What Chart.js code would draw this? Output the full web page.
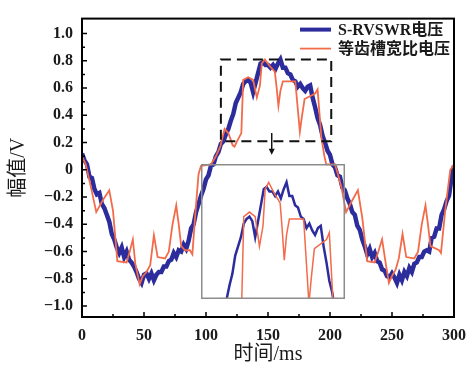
<!DOCTYPE html>
<html>
<head>
<meta charset="utf-8">
<script src="https://cdn.jsdelivr.net/npm/chart.js@4"></script>
<style>
  body { margin: 0; background: #fff; }
  #wrap { position: relative; width: 475px; height: 369px; }
  canvas { position: absolute; left: 0; top: 0; }
</style>
</head>
<body>
<div id="wrap">
  <canvas id="chart_main" width="475" height="369"></canvas>
  <canvas id="chart_inset"></canvas>
</div>
<script>
// S-RVSWR voltage, sampled every 2 ms
const blueTime = [
  0, 2, 4, 6, 8, 10, 12, 14, 16, 18, 20, 22, 24, 26, 28, 30, 32, 34, 36, 38,
  40, 42, 44, 46, 48, 50, 52, 54, 56, 58, 60, 62, 64, 66, 68, 70, 72, 74, 76, 78,
  80, 82, 84, 86, 88, 90, 92, 94, 96, 98, 100, 102, 104, 106, 108, 110, 112, 114, 116, 118,
  120, 122, 124, 126, 128, 130, 132, 134, 136, 138, 140, 142, 144, 146, 148, 150, 152, 154, 156, 158,
  160, 162, 164, 166, 168, 170, 172, 174, 176, 178, 180, 182, 184, 186, 188, 190, 192, 194, 196, 198,
  200, 202, 204, 206, 208, 210, 212, 214, 216, 218, 220, 222, 224, 226, 228, 230, 232, 234, 236, 238,
  240, 242, 244, 246, 248, 250, 252, 254, 256, 258, 260, 262, 264, 266, 268, 270, 272, 274, 276, 278,
  280, 282, 284, 286, 288, 290, 292, 294, 296, 298, 300
];
const blueVolt = [
  0.12, 0.07, 0.04, -0.05, -0.06, -0.14, -0.18, -0.17, -0.25, -0.28,
  -0.33, -0.38, -0.47, -0.51, -0.57, -0.61, -0.57, -0.64, -0.60, -0.66,
  -0.68, -0.71, -0.75, -0.80, -0.83, -0.77, -0.76, -0.80, -0.76, -0.81,
  -0.77, -0.75, -0.75, -0.71, -0.71, -0.67, -0.66, -0.61, -0.64, -0.59,
  -0.60, -0.55, -0.58, -0.52, -0.43, -0.40, -0.31, -0.25, -0.19, -0.14,
  -0.07, -0.04, 0.03, 0.04, 0.10, 0.13, 0.19, 0.21, 0.26, 0.30,
  0.36, 0.41, 0.49, 0.53, 0.57, 0.63, 0.65, 0.66, 0.64, 0.57,
  0.64, 0.71, 0.78, 0.79, 0.77, 0.77, 0.75, 0.77, 0.74, 0.78,
  0.81, 0.75, 0.75, 0.71, 0.70, 0.66, 0.65, 0.61, 0.63, 0.60,
  0.58, 0.61, 0.62, 0.53, 0.46, 0.38, 0.33, 0.25, 0.20, 0.14,
  0.11, 0.04, 0.02, -0.04, -0.05, -0.13, -0.15, -0.21, -0.25, -0.31,
  -0.33, -0.41, -0.44, -0.51, -0.56, -0.62, -0.58, -0.64, -0.61, -0.67,
  -0.68, -0.73, -0.74, -0.78, -0.79, -0.76, -0.79, -0.83, -0.77, -0.81,
  -0.75, -0.78, -0.72, -0.75, -0.69, -0.68, -0.64, -0.64, -0.60, -0.59,
  -0.60, -0.50, -0.49, -0.43, -0.43, -0.33, -0.29, -0.23, -0.19, -0.06,
  0.03
];

// equal tooth/slot width voltage, corner points
const orangeTime = [
  0, 3, 7.5, 11.5, 17, 22, 25, 28.5, 36, 38.5, 41, 43, 46.5, 49, 52, 55, 58, 61, 67, 70,
  73, 76, 78, 80, 83, 87, 89, 91.5, 94, 96, 104, 108, 111.5, 115, 118, 120, 121.5, 123, 124.5, 128.5,
  130, 134, 138, 141, 143.5, 145, 147.5, 151.5, 155.5, 157, 158.4, 160, 162, 172, 174, 175.7, 177.5, 179.5, 188, 190,
  193, 195.5, 197, 204, 206, 209, 213, 217, 222.5, 226, 230, 236, 239, 242, 245, 247.5, 250, 253, 255.5, 258.5,
  261.5, 268, 271, 274, 277, 279, 281, 288, 289.5, 293, 297, 300
];
const orangeVolt = [
  0.10, 0.04, -0.14, -0.31, -0.22, -0.15, -0.30, -0.67, -0.68, -0.60, -0.51, -0.69, -0.84, -0.78, -0.75, -0.70, -0.48, -0.64, -0.65, -0.60,
  -0.40, -0.26, -0.40, -0.56, -0.59, -0.59, -0.62, -0.31, -0.03, 0.03, 0.04, 0.10, 0.17, 0.30, 0.27, 0.22, 0.18, 0.17, 0.20, 0.27,
  0.66, 0.68, 0.66, 0.53, 0.62, 0.78, 0.81, 0.76, 0.72, 0.60, 0.47, 0.58, 0.65, 0.65, 0.45, 0.28, 0.40, 0.52, 0.56, 0.59,
  0.24, 0.10, 0.04, 0.04, -0.02, -0.12, -0.31, -0.24, -0.15, -0.35, -0.67, -0.68, -0.60, -0.51, -0.69, -0.83, -0.78, -0.73, -0.65, -0.47,
  -0.64, -0.65, -0.60, -0.40, -0.26, -0.40, -0.56, -0.59, -0.61, -0.29, 0.00, 0.04
];

const seriesNames = ['S-RVSWR电压', '等齿槽宽比电压'];
const xTicks = [0, 50, 100, 150, 200, 250, 300];
const yTicks = [-1.0, -0.8, -0.6, -0.4, -0.2, 0, 0.2, 0.4, 0.6, 0.8, 1.0];

// dashed window around the peak, and where the enlarged copy sits
const zoomWindow = { t0: 112, t1: 201, v0: 0.21, v1: 0.81 };
const insetFrame = { t0: 96, t1: 212, v0: 0.04, v1: -0.95 };
const insetRange = { t0: 100, t1: 201, v0: 0.3, v1: 0.89 };

const BLUE = '#2c2c9c';
const ORANGE = '#f26b4a';
const TEXT = '#1a1a1a';
const serif = '"Liberation Serif", "Noto Sans CJK SC", serif';

function points(ts, vs) {
  return ts.map((t, i) => ({ x: t, y: vs[i] }));
}

function voltLabel(v) {
  if (Math.abs(v) < 1e-9) return '0';
  return (v < 0 ? '\u2212' : '') + Math.abs(v).toFixed(1);
}

const notesPlugin = {
  id: 'notes',
  afterDatasetsDraw(chart) {
    const { ctx, chartArea: ca, scales: { x, y } } = chart;
    ctx.save();

    // dashed window
    ctx.strokeStyle = '#111';
    ctx.lineWidth = 2;
    ctx.setLineDash([10, 6]);
    const wx0 = x.getPixelForValue(zoomWindow.t0), wx1 = x.getPixelForValue(zoomWindow.t1);
    const wy0 = y.getPixelForValue(zoomWindow.v1), wy1 = y.getPixelForValue(zoomWindow.v0);
    ctx.strokeRect(wx0, wy0, wx1 - wx0, wy1 - wy0);
    ctx.setLineDash([]);

    // arrow down to the enlarged view
    const ax = x.getPixelForValue(153);
    const ay0 = y.getPixelForValue(0.27), ay1 = y.getPixelForValue(0.11);
    ctx.lineWidth = 1.5;
    ctx.beginPath();
    ctx.moveTo(ax, ay0);
    ctx.lineTo(ax, ay1 - 5);
    ctx.stroke();
    ctx.fillStyle = '#111';
    ctx.beginPath();
    ctx.moveTo(ax - 3, ay1 - 6);
    ctx.lineTo(ax + 3, ay1 - 6);
    ctx.lineTo(ax, ay1);
    ctx.closePath();
    ctx.fill();

    // frame
    ctx.strokeStyle = '#000';
    ctx.lineWidth = 2;
    ctx.strokeRect(ca.left, ca.top, ca.width, ca.height);

    // inward ticks, minor ones halfway between labels
    ctx.lineWidth = 1.5;
    ctx.beginPath();
    xTicks.forEach((t, i) => {
      const px = x.getPixelForValue(t);
      ctx.moveTo(px, ca.bottom);
      ctx.lineTo(px, ca.bottom - 5);
      if (i < xTicks.length - 1) {
        const mx = x.getPixelForValue((t + xTicks[i + 1]) / 2);
        ctx.moveTo(mx, ca.bottom);
        ctx.lineTo(mx, ca.bottom - 3);
      }
    });
    yTicks.forEach((v, i) => {
      const py = y.getPixelForValue(v);
      ctx.moveTo(ca.left, py);
      ctx.lineTo(ca.left + 5, py);
      if (i < yTicks.length - 1) {
        const my = y.getPixelForValue((v + yTicks[i + 1]) / 2);
        ctx.moveTo(ca.left, my);
        ctx.lineTo(ca.left + 3, my);
      }
    });
    ctx.stroke();

    // legend
    ctx.font = 'bold 16px ' + serif;
    ctx.textBaseline = 'middle';
    ctx.textAlign = 'left';
    chart.data.datasets.forEach((ds, i) => {
      const ly = ca.top + 11 + i * 19;
      ctx.strokeStyle = ds.borderColor;
      ctx.lineWidth = Math.min(ds.borderWidth, 4);
      ctx.beginPath();
      ctx.moveTo(ca.right - 154, ly);
      ctx.lineTo(ca.right - 123, ly);
      ctx.stroke();
      ctx.fillStyle = TEXT;
      ctx.fillText(ds.label, ca.right - 116, ly + 1);
    });
    ctx.restore();
  }
};

const mainChart = new Chart(document.getElementById('chart_main'), {
  type: 'line',
  data: {
    datasets: [
      {
        label: seriesNames[0],
        data: points(blueTime, blueVolt),
        borderColor: BLUE,
        borderWidth: 4.5,
        pointRadius: 0,
        tension: 0,
        order: 1
      },
      {
        label: seriesNames[1],
        data: points(orangeTime, orangeVolt),
        borderColor: ORANGE,
        borderWidth: 1.8,
        pointRadius: 0,
        tension: 0,
        order: 0
      }
    ]
  },
  options: {
    responsive: false,
    animation: false,
    layout: { padding: { top: 14, right: 18, left: 0, bottom: 0 } },
    plugins: { legend: { display: false }, tooltip: { enabled: false } },
    scales: {
      x: {
        type: 'linear',
        min: 0,
        max: 300,
        afterBuildTicks: (s) => { s.ticks = xTicks.map(v => ({ value: v })); },
        afterFit: (s) => { s.height = 52; },
        grid: { display: false, drawTicks: false },
        border: { display: false },
        ticks: { padding: 9, color: TEXT, maxRotation: 0, autoSkip: false, font: { family: serif, size: 16, weight: 'bold' } },
        title: { display: true, text: '时间/ms', color: TEXT, padding: { top: 0, bottom: 2 }, font: { family: serif, size: 20 } }
      },
      y: {
        min: -1.08,
        max: 1.11,
        afterBuildTicks: (s) => { s.ticks = yTicks.map(v => ({ value: v })); },
        afterFit: (s) => { s.width = 82; },
        grid: { display: false, drawTicks: false },
        border: { display: false },
        ticks: { padding: 9, color: TEXT, autoSkip: false, callback: voltLabel, font: { family: serif, size: 16, weight: 'bold' } },
        title: { display: true, text: '幅值/V', color: TEXT, padding: { top: 7, bottom: 0 }, font: { family: serif, size: 20 } }
      }
    }
  },
  plugins: [notesPlugin]
});

// enlarged view of the peak, laid over the main plot
const insetCanvas = document.getElementById('chart_inset');
const mx = mainChart.scales.x, my = mainChart.scales.y;
const fx0 = mx.getPixelForValue(insetFrame.t0), fx1 = mx.getPixelForValue(insetFrame.t1);
const fy0 = my.getPixelForValue(insetFrame.v0), fy1 = my.getPixelForValue(insetFrame.v1);
insetCanvas.width = Math.round(fx1 - fx0);
insetCanvas.height = Math.round(fy1 - fy0);
insetCanvas.style.left = Math.round(fx0) + 'px';
insetCanvas.style.top = Math.round(fy0) + 'px';

const insetBorder = {
  id: 'insetBorder',
  afterDatasetsDraw(chart) {
    const { ctx, width, height } = chart;
    ctx.save();
    ctx.strokeStyle = '#8c8c8c';
    ctx.lineWidth = 1.5;
    ctx.strokeRect(0.75, 0.75, width - 1.5, height - 1.5);
    ctx.restore();
  }
};

new Chart(insetCanvas, {
  type: 'line',
  data: {
    datasets: [
      { data: points(blueTime, blueVolt), borderColor: BLUE, borderWidth: 2.5, pointRadius: 0, tension: 0, order: 1 },
      { data: points(orangeTime, orangeVolt), borderColor: ORANGE, borderWidth: 1.5, pointRadius: 0, tension: 0, order: 0 }
    ]
  },
  options: {
    responsive: false,
    animation: false,
    layout: { padding: 0 },
    plugins: { legend: { display: false }, tooltip: { enabled: false } },
    scales: {
      x: { type: 'linear', display: false, min: insetRange.t0, max: insetRange.t1 },
      y: { display: false, min: insetRange.v0, max: insetRange.v1 }
    }
  },
  plugins: [insetBorder]
});
</script>
</body>
</html>
